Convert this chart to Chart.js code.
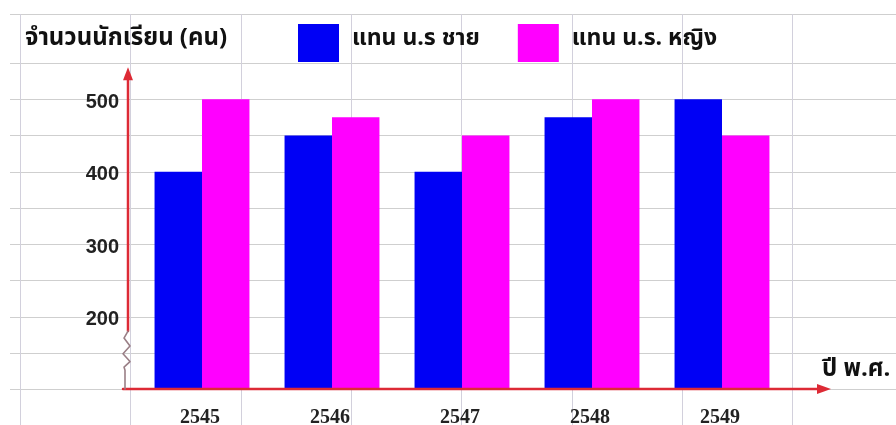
<!DOCTYPE html>
<html>
<head>
<meta charset="utf-8">
<script src="https://cdn.jsdelivr.net/npm/chart.js@4.4.1/dist/chart.umd.min.js"></script>
<style>
  html, body { margin: 0; padding: 0; background: #ffffff; }
  #wrap { width: 896px; height: 425px; position: relative; }
</style>
</head>
<body>
<div id="wrap"><canvas id="c" width="896" height="425"></canvas></div>
<script>
// Student numbers per year (Buddhist Era)
const years = ['2545', '2546', '2547', '2548', '2549'];
const boys = [400, 450, 400, 475, 500];
const girls = [500, 475, 450, 500, 450];
const yTickLabels = [200, 300, 400, 500];
const seriesNames = ['แทน น.ร ชาย', 'แทน น.ร. หญิง'];
const yTitle = 'จำนวนนักเรียน (คน)';
const xTitle = 'ปี พ.ศ.';

const THAI_FONT = '"Noto Sans Thai", "Loma", "Garuda", "Tlwg Typo", "Noto Sans", sans-serif';
const AXIS_RED = '#dd2a35';
const SHEET_LINE = '#cfcfcf';
const SHEET_COL = 110.3;   // spreadsheet column width
const SHEET_COL0 = 20;     // first column line

// Spreadsheet-style background: cell borders behind the chart
const sheetGrid = {
  id: 'sheetGrid',
  beforeDraw(chart) {
    const ctx = chart.ctx;
    const y = chart.scales.y;
    const W = chart.width, H = chart.height;
    ctx.save();
    ctx.fillStyle = '#ffffff';
    ctx.fillRect(0, 0, W, H);
    ctx.strokeStyle = SHEET_LINE;
    ctx.lineWidth = 1;
    // row borders every 50 units of the value axis, plus the header row top
    const rows = [14];
    for (let v = 50; v <= 550; v += 50) rows.push(Math.round(y.getPixelForValue(v)));
    rows.forEach(py => {
      ctx.beginPath();
      ctx.moveTo(10, py + 0.5);
      ctx.lineTo(W, py + 0.5);
      ctx.stroke();
    });
    ctx.strokeStyle = '#d2d0dc';
    for (let x = SHEET_COL0; x < W; x += SHEET_COL) {
      ctx.beginPath();
      ctx.moveTo(Math.round(x) + 0.5, 14);
      ctx.lineTo(Math.round(x) + 0.5, H);
      ctx.stroke();
    }
    ctx.restore();
  }
};

// Red axes with arrowheads, axis break, titles and legend
const decorations = {
  id: 'decorations',
  afterDatasetsDraw(chart) {
    const ctx = chart.ctx;
    const a = chart.chartArea;
    const y = chart.scales.y;
    const ax = a.left - 9;                  // vertical axis line
    const base = y.getPixelForValue(100);   // horizontal axis line
    const breakTop = y.getPixelForValue(180);
    const breakBot = y.getPixelForValue(126);
    ctx.save();
    ctx.lineCap = 'round';
    ctx.lineJoin = 'round';

    // horizontal axis
    ctx.strokeStyle = AXIS_RED;
    ctx.lineWidth = 2.5;
    ctx.beginPath();
    ctx.moveTo(ax - 5, base);
    ctx.lineTo(a.right + 35, base);
    ctx.stroke();
    ctx.fillStyle = AXIS_RED;
    ctx.beginPath();
    ctx.moveTo(a.right + 44, base);
    ctx.lineTo(a.right + 30, base - 5);
    ctx.lineTo(a.right + 30, base + 5);
    ctx.closePath();
    ctx.fill();

    // vertical axis (above the break)
    const topY = y.getPixelForValue(540);
    ctx.lineWidth = 2.5;
    ctx.beginPath();
    ctx.moveTo(ax, breakTop);
    ctx.lineTo(ax, topY + 8);
    ctx.stroke();
    ctx.beginPath();
    ctx.moveTo(ax, topY - 3);
    ctx.lineTo(ax - 5, topY + 10);
    ctx.lineTo(ax + 5, topY + 10);
    ctx.closePath();
    ctx.fill();

    // axis break zig-zag and the stub down to the horizontal axis
    const h = breakBot - breakTop;
    ctx.strokeStyle = '#9a7f86';
    ctx.lineWidth = 1.6;
    ctx.beginPath();
    ctx.moveTo(ax, breakTop);
    ctx.lineTo(ax - 4, breakTop + h * 0.18);
    ctx.lineTo(ax + 2, breakTop + h * 0.38);
    ctx.lineTo(ax - 5, breakTop + h * 0.58);
    ctx.lineTo(ax + 2, breakTop + h * 0.78);
    ctx.lineTo(ax - 4, breakTop + h * 0.92);
    ctx.lineTo(ax - 3, breakBot);
    ctx.lineTo(ax - 3, base);
    ctx.stroke();

    // axis titles
    ctx.fillStyle = '#111111';
    ctx.textBaseline = 'middle';
    ctx.textAlign = 'left';
    ctx.font = 'bold 24px ' + THAI_FONT;
    ctx.fillText(yTitle, 25, 40);
    ctx.fillText(xTitle, 822, 371);

    // legend
    ctx.font = 'bold 23px ' + THAI_FONT;
    let lx = 298;
    chart.data.datasets.forEach(ds => {
      ctx.fillStyle = ds.backgroundColor;
      ctx.fillRect(lx, 24, 41, 38);
      ctx.fillStyle = '#111111';
      ctx.fillText(ds.label, lx + 54, 40);
      lx += 54 + ctx.measureText(ds.label).width + 38;
    });
    ctx.restore();
  }
};

new Chart(document.getElementById('c'), {
  type: 'bar',
  data: {
    labels: years,
    datasets: [
      { label: seriesNames[0], data: boys, backgroundColor: '#0000f5' },
      { label: seriesNames[1], data: girls, backgroundColor: '#ff00ff' }
    ]
  },
  options: {
    responsive: false,
    animation: false,
    devicePixelRatio: 1,
    layout: { padding: { top: 63, right: 109, left: 0, bottom: 0 } },
    datasets: { bar: { categoryPercentage: 0.73, barPercentage: 1.0 } },
    plugins: { legend: { display: false }, tooltip: { enabled: false } },
    scales: {
      x: {
        grid: { display: false },
        border: { display: false },
        ticks: {
          color: '#222222',
          padding: 9,
          labelOffset: -2,
          font: { family: '"Liberation Serif", "Times New Roman", serif', size: 20, weight: 'bold' }
        },
        afterFit(scale) { scale.height = 36; }
      },
      y: {
        min: 100,
        max: 550,
        grid: { display: false, drawTicks: false },
        border: { display: false },
        ticks: {
          stepSize: 50,
          padding: 18,
          labelOffset: 3,
          color: '#222222',
          font: { family: '"Liberation Sans", Arial, sans-serif', size: 20, weight: 'bold' },
          callback: v => (yTickLabels.includes(v) ? String(v) : '')
        },
        afterFit(scale) { scale.width = 137; }
      }
    }
  },
  plugins: [sheetGrid, decorations]
});
</script>
</body>
</html>
